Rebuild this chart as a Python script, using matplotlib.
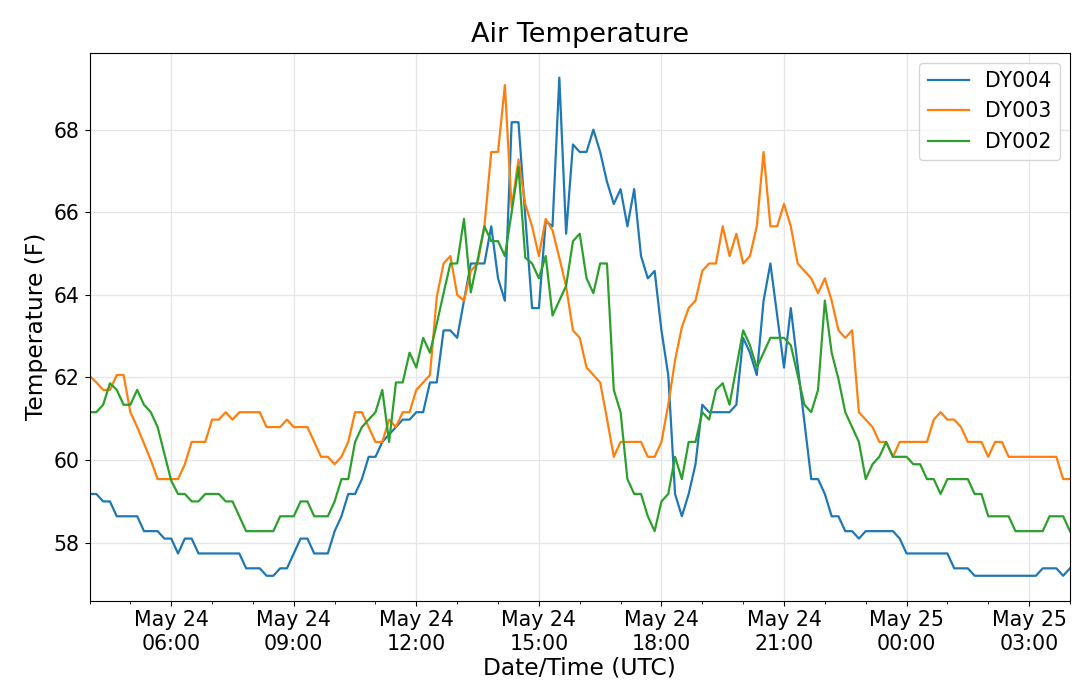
import matplotlib
matplotlib.use("Agg")
import matplotlib.pyplot as plt
import matplotlib.dates as mdates
import pandas as pd

start_time = "2018-05-24 04:00"
n_points = 145
freq = "10min"

dy004 = [
    59.18, 59.18, 59.0, 59.0, 58.64, 58.64, 58.64, 58.64, 58.28, 58.28, 58.28, 58.1,
    58.1, 57.74, 58.1, 58.1, 57.74, 57.74, 57.74, 57.74, 57.74, 57.74, 57.74, 57.38,
    57.38, 57.38, 57.2, 57.2, 57.38, 57.38, 57.74, 58.1, 58.1, 57.74, 57.74, 57.74,
    58.28, 58.64, 59.18, 59.18, 59.54, 60.08, 60.08, 60.44, 60.62, 60.8, 60.98, 60.98,
    61.16, 61.16, 61.88, 61.88, 63.14, 63.14, 62.96, 63.86, 64.76, 64.76, 64.76, 65.66,
    64.4, 63.86, 68.18, 68.18, 65.9, 63.68, 63.68, 65.78, 65.66, 69.26, 65.48, 67.64,
    67.46, 67.46, 68.0, 67.46, 66.74, 66.2, 66.56, 65.66, 66.56, 64.94, 64.4, 64.58,
    63.14, 62.06, 59.18, 58.64, 59.18, 59.9, 61.34, 61.16, 61.16, 61.16, 61.16, 61.34,
    62.96, 62.6, 62.06, 63.86, 64.76, 63.5, 62.24, 63.68, 62.3, 60.9, 59.54, 59.54,
    59.18, 58.64, 58.64, 58.28, 58.28, 58.1, 58.28, 58.28, 58.28, 58.28, 58.28, 58.1,
    57.74, 57.74, 57.74, 57.74, 57.74, 57.74, 57.74, 57.38, 57.38, 57.38, 57.2, 57.2,
    57.2, 57.2, 57.2, 57.2, 57.2, 57.2, 57.2, 57.2, 57.38, 57.38, 57.38, 57.2,
    57.38,
]

dy003 = [
    62.04, 61.88, 61.7, 61.7, 62.06, 62.06, 61.16, 60.8, 60.4, 60.0, 59.54, 59.54,
    59.54, 59.54, 59.9, 60.44, 60.44, 60.44, 60.98, 60.98, 61.16, 60.98, 61.16, 61.16,
    61.16, 61.16, 60.8, 60.8, 60.8, 60.98, 60.8, 60.8, 60.8, 60.44, 60.08, 60.08,
    59.9, 60.08, 60.44, 61.16, 61.16, 60.8, 60.44, 60.44, 60.98, 60.8, 61.16, 61.16,
    61.7, 61.88, 62.06, 63.95, 64.76, 64.94, 64.0, 63.86, 64.58, 64.76, 65.66, 67.46,
    67.46, 69.08, 66.1, 67.28, 66.2, 65.66, 64.94, 65.84, 65.56, 64.9, 64.2, 63.14,
    62.96, 62.24, 62.06, 61.88, 61.0, 60.08, 60.44, 60.44, 60.44, 60.44, 60.08, 60.08,
    60.44, 61.34, 62.42, 63.22, 63.68, 63.86, 64.58, 64.76, 64.76, 65.66, 64.94, 65.48,
    64.76, 64.94, 65.66, 67.46, 65.66, 65.66, 66.2, 65.66, 64.76, 64.58, 64.4, 64.04,
    64.4, 63.86, 63.14, 62.96, 63.14, 61.16, 60.98, 60.8, 60.44, 60.44, 60.08, 60.44,
    60.44, 60.44, 60.44, 60.44, 60.98, 61.16, 60.98, 60.98, 60.8, 60.44, 60.44, 60.44,
    60.08, 60.44, 60.44, 60.08, 60.08, 60.08, 60.08, 60.08, 60.08, 60.08, 60.08, 59.54,
    59.54,
]

dy002 = [
    61.16, 61.16, 61.34, 61.86, 61.7, 61.34, 61.34, 61.7, 61.34, 61.16, 60.8, 60.15,
    59.5, 59.18, 59.18, 59.0, 59.0, 59.18, 59.18, 59.18, 59.0, 59.0, 58.64, 58.28,
    58.28, 58.28, 58.28, 58.28, 58.64, 58.64, 58.64, 59.0, 59.0, 58.64, 58.64, 58.64,
    59.0, 59.54, 59.54, 60.44, 60.8, 60.98, 61.16, 61.7, 60.44, 61.88, 61.88, 62.6,
    62.24, 62.96, 62.6, 63.3, 64.04, 64.76, 64.76, 65.84, 64.06, 64.85, 65.66, 65.3,
    65.3, 64.94, 66.0, 67.1, 64.9, 64.76, 64.4, 64.94, 63.5, 63.86, 64.22, 65.3,
    65.48, 64.4, 64.04, 64.76, 64.76, 61.7, 61.16, 59.54, 59.18, 59.18, 58.64, 58.28,
    59.0, 59.18, 60.08, 59.54, 60.44, 60.44, 61.16, 60.98, 61.7, 61.86, 61.34, 62.24,
    63.14, 62.78, 62.24, 62.6, 62.96, 62.96, 62.96, 62.78, 62.06, 61.34, 61.16, 61.7,
    63.86, 62.6, 61.96, 61.16, 60.8, 60.44, 59.54, 59.9, 60.08, 60.44, 60.08, 60.08,
    60.08, 59.9, 59.9, 59.54, 59.54, 59.18, 59.54, 59.54, 59.54, 59.54, 59.18, 59.18,
    58.64, 58.64, 58.64, 58.64, 58.28, 58.28, 58.28, 58.28, 58.28, 58.64, 58.64, 58.64,
    58.28,
]

series_names = ["DY004", "DY003", "DY002"]
series_values = [dy004, dy003, dy002]
series_colors = ["#1f77b4", "#ff7f0e", "#2ca02c"]

title = "Air Temperature"
xlabel = "Date/Time (UTC)"
ylabel = "Temperature (F)"
ytick_values = [58, 60, 62, 64, 66, 68]

times = pd.date_range(start_time, periods=n_points, freq=freq)

fig = plt.figure(figsize=(10.8, 6.97), dpi=100)
ax = fig.add_axes([0.0829, 0.1382, 0.9907 - 0.0829, 0.9244 - 0.1382])

for name, vals, col in zip(series_names, series_values, series_colors):
    ax.plot(times.to_pydatetime(), vals, color=col, lw=1.6, label=name)

ax.set_xlim(times[0].to_pydatetime(), times[-1].to_pydatetime())
ax.xaxis.set_major_locator(mdates.HourLocator(byhour=range(0, 24, 3)))
ax.xaxis.set_minor_locator(mdates.HourLocator())
ax.xaxis.set_major_formatter(mdates.DateFormatter("%b %d\n%H:%M"))
ax.set_yticks(ytick_values)

ax.grid(True, which="major", color="#e6e6e6", lw=1.0)
ax.set_axisbelow(True)
ax.tick_params(axis="both", which="major", labelsize=14.8)
for lbl in ax.get_xticklabels():
    lbl.set_horizontalalignment("center")

ax.set_title(title, fontsize=19.5, pad=8)
ax.set_xlabel(xlabel, fontsize=16.8, labelpad=2)
ax.set_ylabel(ylabel, fontsize=16.8)
ax.legend(loc="upper right", fontsize=14.8)

fig.savefig("out.png", dpi=100)
